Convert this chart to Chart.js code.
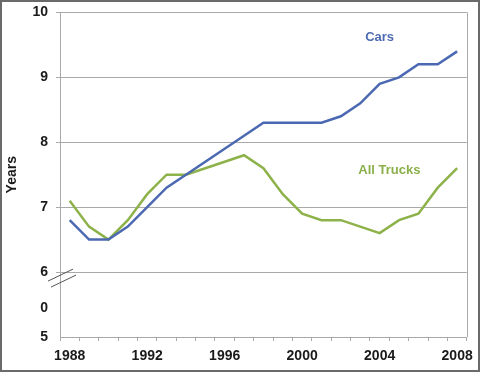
<!DOCTYPE html>
<html>
<head>
<meta charset="utf-8">
<script src="https://cdn.jsdelivr.net/npm/chart.js@4/dist/chart.umd.min.js"></script>
<style>
  html, body { margin: 0; padding: 0; background: #fff; }
  #wrap { position: relative; width: 480px; height: 372px; overflow: hidden; }
  #frame { position: absolute; left: 0; top: 0; width: 480px; height: 372px; box-sizing: border-box; border: 2px solid #6a6a6a; pointer-events: none; }
  canvas { position: absolute; left: 0; top: -4px; }
</style>
</head>
<body>
<div id="wrap">
  <canvas id="c" width="480" height="376"></canvas>
  <div id="frame"></div>
</div>
<script>
const years = ["1988","1989","1990","1991","1992","1993","1994","1995","1996","1997","1998",
               "1999","2000","2001","2002","2003","2004","2005","2006","2007","2008"];
const cars = [6.8, 6.5, 6.5, 6.7, 7.0, 7.3, 7.5, 7.7, 7.9, 8.1, 8.3,
              8.3, 8.3, 8.3, 8.4, 8.6, 8.9, 9.0, 9.2, 9.2, 9.4];
const allTrucks = [7.1, 6.7, 6.5, 6.8, 7.2, 7.5, 7.5, 7.6, 7.7, 7.8, 7.6,
                   7.2, 6.9, 6.8, 6.8, 6.7, 6.6, 6.8, 6.9, 7.3, 7.6];
const yTickValues = [5, 5.45, 6, 7, 8, 9, 10];
const yTickLabels = ["5", "0", "6", "7", "8", "9", "10"];
const seriesLabels = [
  { text: "Cars", x: 16, y: 9.61, color: "#4f6cb3" },
  { text: "All Trucks", x: 16.5, y: 7.57, color: "#8bb04b" }
];

const BLUE = "#4b69b3";
const GREEN = "#8db24a";
const GRID = "#a9a9a9";
const FONT = "'Liberation Sans', Arial, sans-serif";

const overlay = {
  id: "overlay",
  afterDraw(chart) {
    const ctx = chart.ctx;
    const a = chart.chartArea;
    const xs = chart.scales.x, ys = chart.scales.y;
    ctx.save();
    ctx.strokeStyle = GRID;
    ctx.lineWidth = 1;
    ctx.beginPath();
    ctx.moveTo(Math.round(a.right) + 0.5, a.top);
    ctx.lineTo(Math.round(a.right) + 0.5, a.bottom);
    ctx.stroke();
    const y6 = ys.getPixelForValue(6);
    const L = a.left;
    ctx.strokeStyle = "#555";
    ctx.lineWidth = 1;
    ctx.beginPath();
    ctx.moveTo(L - 12, y6 + 9); ctx.lineTo(L + 13, y6 - 3);
    ctx.moveTo(L - 9, y6 + 15); ctx.lineTo(L + 16, y6 + 3);
    ctx.stroke();
    ctx.font = "bold 13px " + FONT;
    ctx.textAlign = "center";
    ctx.textBaseline = "middle";
    seriesLabels.forEach(s => {
      ctx.fillStyle = s.color;
      ctx.fillText(s.text, xs.getPixelForValue(s.x), ys.getPixelForValue(s.y));
    });
    ctx.restore();
  }
};

new Chart(document.getElementById("c"), {
  type: "line",
  data: {
    labels: years,
    datasets: [
      { label: "Cars", data: cars, borderColor: BLUE, borderWidth: 2.5, pointRadius: 0, tension: 0, fill: false },
      { label: "All Trucks", data: allTrucks, borderColor: GREEN, borderWidth: 2.5, pointRadius: 0, tension: 0, fill: false }
    ]
  },
  options: {
    responsive: false,
    animation: false,
    events: [],
    layout: { padding: { top: 9, right: 12, bottom: 0, left: 0 } },
    plugins: { legend: { display: false }, tooltip: { enabled: false } },
    scales: {
      x: {
        type: "category",
        offset: true,
        grid: { offset: true, drawOnChartArea: false, tickLength: 4, color: GRID, tickColor: GRID },
        border: { color: GRID, width: 1 },
        ticks: {
          autoSkip: false, maxRotation: 0, minRotation: 0, padding: 7,
          color: "#1a1a1a",
          font: { family: FONT, size: 14, weight: "bold" },
          callback: function (v, i) { const y = years[i]; return (parseInt(y) % 4 === 0) ? y : ""; }
        },
        afterFit: function (s) { s.height = 35; }
      },
      y: {
        min: 5, max: 10,
        afterBuildTicks: function (s) { s.ticks = yTickValues.map(v => ({ value: v })); },
        grid: {
          tickLength: 4,
          color: ctx => (ctx.tick && ctx.tick.value >= 6) ? GRID : "rgba(0,0,0,0)",
          tickColor: ctx => (ctx.tick && ctx.tick.value >= 6) ? GRID : "rgba(0,0,0,0)"
        },
        border: { color: GRID, width: 1 },
        ticks: {
          padding: 8,
          color: "#1a1a1a",
          font: { family: FONT, size: 14, weight: "bold" },
          callback: function (v) { const i = yTickValues.indexOf(v); return i >= 0 ? yTickLabels[i] : ""; }
        },
        title: {
          display: true, text: "Years", color: "#1a1a1a",
          font: { family: FONT, size: 14, weight: "bold" },
          padding: { top: 4, bottom: 4 }
        },
        afterFit: function (s) { s.width = 60; }
      }
    }
  },
  plugins: [overlay]
});
</script>
</body>
</html>
